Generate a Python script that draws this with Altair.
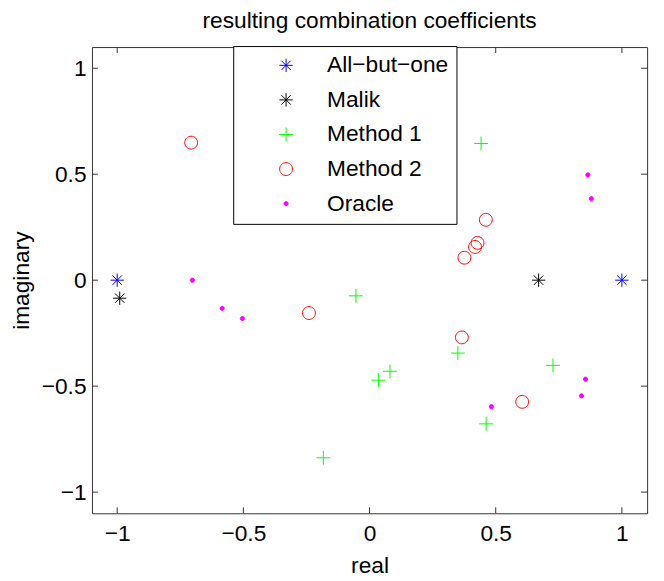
import altair as alt
import pandas as pd

# ---- data ----
series_names = ["All−but−one", "Malik", "Method 1", "Method 2", "Oracle"]

allbut_x = [-1.0, 1.0]
allbut_y = [0.0, 0.0]

malik_x = [-0.99, 0.67]
malik_y = [-0.085, 0.0]

m1_x = [0.442, -0.054, 0.035, 0.081, 0.350, 0.727, 0.462, -0.183]
m1_y = [0.645, -0.074, -0.472, -0.430, -0.344, -0.402, -0.678, -0.838]

m2_x = [-0.707, 0.461, 0.428, 0.418, 0.376, -0.240, 0.366, 0.605]
m2_y = [0.649, 0.285, 0.176, 0.157, 0.106, -0.155, -0.270, -0.574]

oracle_x = [-0.702, -0.584, -0.504, 0.483, 0.856, 0.840, 0.865, 0.879]
oracle_y = [0.0, -0.133, -0.181, -0.597, -0.467, -0.546, 0.497, 0.385]

tick_values = [-1, -0.5, 0, 0.5, 1]

rows = []
for name, xs, ys in zip(series_names,
                        [allbut_x, malik_x, m1_x, m2_x, oracle_x],
                        [allbut_y, malik_y, m1_y, m2_y, oracle_y]):
    for a, b in zip(xs, ys):
        rows.append({"series": name, "real": a, "imag": b})
df = pd.DataFrame(rows)
ticks_df = pd.DataFrame({"t": tick_values})

# ---- styling ----
FONT = "Liberation Sans"
W, H = 562, 472
TL = 6
AXC = "#333333"

# custom symbol paths (unit = 5 px at size 100)
asterisk = "M-1.35,0L1.35,0M0,-1.35L0,1.35M-0.95,-0.95L0.95,0.95M-0.95,0.95L0.95,-0.95"
plus = "M-1.4,0L1.4,0M0,-1.4L0,1.4"
ring = "M1.3,0A1.3,1.3,0,1,1,-1.3,0A1.3,1.3,0,1,1,1.3,0Z"
dot = "M0.42,0A0.42,0.42,0,1,1,-0.42,0A0.42,0.42,0,1,1,0.42,0Z"

strokes = ["#0000ff", "#000000", "#00ff00", "#ff0000", "#ff00ff"]
fills = ["transparent", "transparent", "transparent", "transparent", "#ff00ff"]
shapes = [asterisk, asterisk, plus, ring, dot]

xscale = alt.Scale(domain=[-1.1, 1.1], nice=False, zero=False)
yscale = alt.Scale(domain=[-1.1, 1.1], nice=False, zero=False)

points = alt.Chart(df).mark_point(opacity=1, strokeWidth=1, size=100).encode(
    x=alt.X("real:Q", scale=xscale,
            axis=alt.Axis(values=tick_values, title="real", format="~g",
                          labelBaseline="alphabetic", labelPadding=28,
                          titleX=W / 2, titleY=60, titleAlign="center",
                          titleBaseline="alphabetic")),
    y=alt.Y("imag:Q", scale=yscale,
            axis=alt.Axis(values=tick_values, title="imaginary", format="~g",
                          labelPadding=6,
                          titleX=-64, titleY=H / 2, titleAlign="center",
                          titleAngle=270, titleBaseline="alphabetic")),
    stroke=alt.Stroke("series:N", scale=alt.Scale(domain=series_names, range=strokes), title=None),
    fill=alt.Fill("series:N", scale=alt.Scale(domain=series_names, range=fills), title=None),
    shape=alt.Shape("series:N", scale=alt.Scale(domain=series_names, range=shapes), title=None),
)

tick_base = alt.Chart(ticks_df).mark_rule(color=AXC, strokeWidth=1)
bottom = tick_base.encode(x=alt.X("t:Q", scale=xscale), y=alt.value(H), y2=alt.value(H - TL))
top = tick_base.encode(x=alt.X("t:Q", scale=xscale), y=alt.value(0), y2=alt.value(TL))
left = tick_base.encode(y=alt.Y("t:Q", scale=yscale), x=alt.value(0), x2=alt.value(TL))
right = tick_base.encode(y=alt.Y("t:Q", scale=yscale), x=alt.value(W), x2=alt.value(W - TL))

chart = alt.layer(bottom, top, left, right, points).properties(
    width=W, height=H,
    title="resulting combination coefficients",
    autosize=alt.AutoSizeParams(type="none"),
    padding={"left": 85, "top": 36, "right": 9, "bottom": 65},
).configure_view(
    stroke=AXC, strokeWidth=1
).configure_axis(
    grid=False, domain=False, ticks=False, tickSize=0,
    labelFont=FONT, labelFontSize=23, labelColor="black",
    titleFont=FONT, titleFontSize=23, titleFontWeight="normal", titleColor="black",
).configure_title(
    font=FONT, fontSize=23, fontWeight="normal", color="black",
    anchor="middle", baseline="alphabetic", offset=13,
).configure_legend(
    orient="none", legendX=143, legendY=-1,
    padding=8, strokeColor="black", fillColor="white",
    labelFont=FONT, labelFontSize=23, labelColor="black",
    symbolOffset=34, labelOffset=30, rowPadding=11,
    symbolSize=100, symbolStrokeWidth=1, symbolOpacity=1,
)

chart.save("out.html", embed_options={"renderer": "svg", "actions": False})
